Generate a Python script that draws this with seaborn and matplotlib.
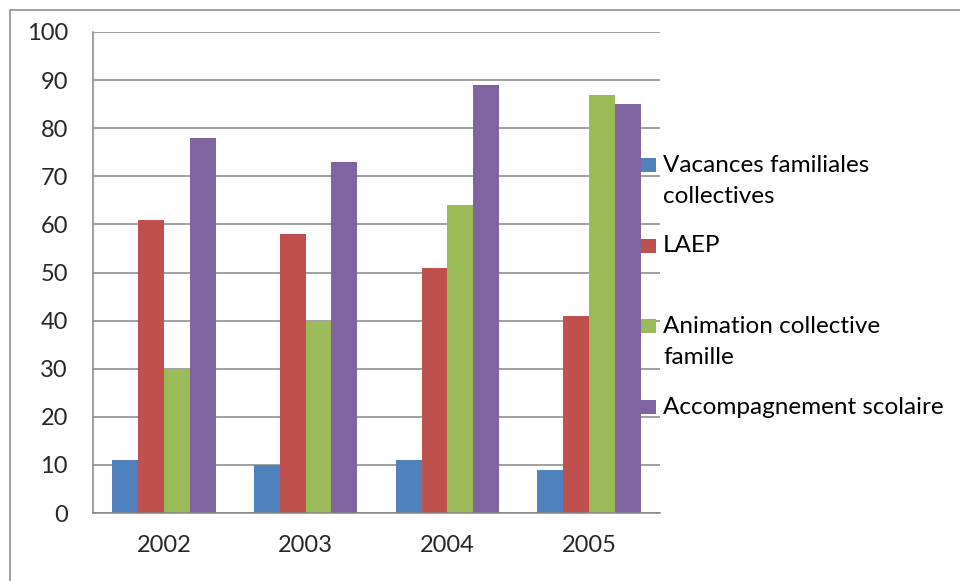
import pandas as pd
import matplotlib.pyplot as plt
import matplotlib.patches as mpatches
from matplotlib.ticker import FixedLocator
import seaborn as sns

years = ['2002', '2003', '2004', '2005']
series = ['Vacances familiales\ncollectives', 'LAEP',
          'Animation collective\nfamille', 'Accompagnement scolaire']
vacances = [11, 10, 11, 9]
laep = [61, 58, 51, 41]
animation = [30, 40, 64, 87]
accompagnement = [78, 73, 89, 85]
colors = ['#4F81BD', '#C0504D', '#9BBB59', '#8064A2']
y_ticks = list(range(0, 101, 10))

GRID = '#868686'


def build_frame():
    rows = []
    for name, values in zip(series, [vacances, laep, animation, accompagnement]):
        for year, v in zip(years, values):
            rows.append({'year': year, 'series': name, 'value': v})
    return pd.DataFrame(rows)


def main():
    sns.set_style('white')
    plt.rcParams['font.family'] = ['Lato', 'DejaVu Sans']

    df = build_frame()
    W, H = 960, 581
    fig = plt.figure(figsize=(W / 100, H / 100), dpi=100)
    ax = fig.add_axes([93 / W, 1 - 513 / H, (660 - 93) / W, (513 - 32) / H])

    sns.barplot(data=df, x='year', y='value', hue='series', order=years,
                hue_order=series, palette=colors, saturation=1, width=0.73,
                gap=0, legend=False, ax=ax, edgecolor='none')

    ax.set_xlim(-0.5, len(years) - 0.5)
    ax.set_ylim(0, 100)
    ax.set_yticks(y_ticks)
    ax.yaxis.grid(True, color=GRID, linewidth=1.1)
    ax.set_axisbelow(True)
    ax.set_xlabel('')
    ax.set_ylabel('')

    for side in ['top', 'right']:
        ax.spines[side].set_visible(False)
    for side in ['left', 'bottom']:
        ax.spines[side].set_color(GRID)
        ax.spines[side].set_linewidth(1.1)

    # category boundaries get the tick marks, labels sit in the middle
    ax.xaxis.set_minor_locator(FixedLocator([i - 0.5 for i in range(len(years) + 1)]))
    ax.tick_params(axis='x', which='major', length=0, pad=16, labelsize=17)
    ax.tick_params(axis='x', which='minor', length=6, width=1.1, color=GRID, direction='out')
    ax.tick_params(axis='y', length=6, width=1.1, color=GRID, direction='out', pad=12, labelsize=17)

    # legend, Excel style: square then text, top-aligned lines
    for i, (name, col) in enumerate(zip(series, colors)):
        base = 172 + 80.5 * i
        fig.patches.append(mpatches.Rectangle((641 / W, 1 - base / H), 15 / W, 14 / H,
                                              transform=fig.transFigure, facecolor=col,
                                              edgecolor='none'))
        for k, line in enumerate(name.split('\n')):
            fig.text(663 / W, 1 - (base + 31 * k) / H, line, fontsize=17.5,
                     va='baseline', ha='left', color='black')

    # chart border
    fig.patches.append(mpatches.Rectangle((10 / W, -0.01), 1.0, 1 - 10 / H + 0.01,
                                          transform=fig.transFigure, fill=False,
                                          edgecolor=GRID, linewidth=1.1))

    fig.savefig('out.png', dpi=100)


if __name__ == "__main__":
    main()
